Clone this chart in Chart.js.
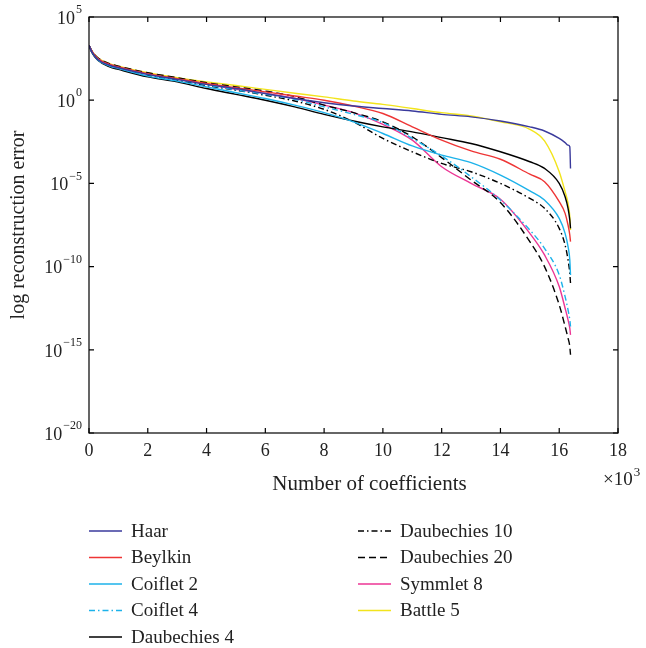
<!DOCTYPE html>
<html lang="en">
<head>
    <meta charset="UTF-8">
    <title>Reconstruction error vs number of coefficients</title>
    <script src="https://cdn.jsdelivr.net/npm/chart.js"></script>
    <style>
        html, body { margin: 0; padding: 0; background: #fff; }
        #wrap { width: 646px; height: 648px; }
    </style>
</head>
<body>
    <div id="wrap">
        <canvas id="errChart" width="646" height="648"></canvas>
    </div>

    <script>
        // number of coefficients, in thousands (x10^3)
        const nCoef = [0, 0.1, 0.3, 0.7, 1, 2, 3, 4, 5, 6, 7, 8, 9, 10, 11, 12, 13, 14, 15, 15.5, 16, 16.2, 16.3, 16.36, 16.384];

        // log10 of the reconstruction error
        const haar      = [3.3, 2.9, 2.45, 2.1, 1.95, 1.55, 1.25, 0.95, 0.7, 0.4, 0.1, -0.15, -0.35, -0.5, -0.65, -0.85, -1.0, -1.25, -1.6, -1.85, -2.3, -2.55, -2.7, -2.8, -4.1];
        const beylkin   = [3.3, 2.95, 2.5, 2.15, 2.0, 1.6, 1.3, 1.0, 0.75, 0.5, 0.25, 0.0, -0.35, -0.8, -1.6, -2.4, -3.05, -3.55, -4.45, -4.9, -6.1, -6.8, -7.5, -8.1, -8.5];
        const coiflet2  = [3.3, 2.9, 2.42, 2.05, 1.9, 1.45, 1.15, 0.8, 0.45, 0.1, -0.3, -0.75, -1.3, -2.0, -2.75, -3.3, -3.75, -4.5, -5.45, -6.0, -7.1, -8.0, -8.8, -9.6, -10.5];
        const coiflet4  = [3.3, 2.9, 2.5, 2.12, 1.97, 1.55, 1.25, 0.92, 0.62, 0.35, 0.05, -0.4, -0.85, -1.35, -2.3, -3.35, -4.6, -6.0, -7.8, -8.9, -10.5, -11.8, -12.6, -13.2, -13.6];
        const daub4     = [3.3, 2.85, 2.4, 2.0, 1.85, 1.4, 1.1, 0.7, 0.35, 0.0, -0.4, -0.85, -1.25, -1.6, -1.9, -2.25, -2.6, -3.1, -3.7, -4.1, -5.0, -5.8, -6.5, -7.2, -7.7];
        const daub10    = [3.3, 2.9, 2.45, 2.1, 1.95, 1.5, 1.2, 0.88, 0.6, 0.3, -0.05, -0.55, -1.3, -2.3, -3.1, -3.8, -4.3, -5.0, -5.9, -6.5, -7.7, -8.7, -9.6, -10.4, -11.0];
        const daub20    = [3.3, 2.95, 2.55, 2.2, 2.05, 1.65, 1.35, 1.05, 0.8, 0.55, 0.22, -0.3, -0.75, -1.3, -2.2, -3.45, -4.8, -6.15, -8.5, -10.0, -12.3, -13.6, -14.3, -14.8, -15.3];
        const symmlet8  = [3.3, 2.9, 2.5, 2.15, 2.0, 1.55, 1.25, 0.95, 0.65, 0.4, 0.12, -0.3, -0.75, -1.45, -2.4, -4.0, -5.0, -5.95, -8.0, -9.3, -11.2, -12.5, -13.2, -13.7, -14.1];
        const battle5   = [3.3, 2.95, 2.55, 2.2, 2.05, 1.65, 1.35, 1.1, 0.88, 0.65, 0.42, 0.2, -0.05, -0.25, -0.5, -0.75, -0.95, -1.3, -1.75, -2.45, -4.3, -5.5, -6.2, -7.0, -7.8];

        const xTicks = [0, 2, 4, 6, 8, 10, 12, 14, 16, 18];
        const yTicks = [-20, -15, -10, -5, 0, 5];

        const FONT = '"Liberation Serif", "DejaVu Serif", serif';
        const dashDot = [6, 3, 1.5, 3];

        function pts(arr) {
            return nCoef.map((x, i) => ({ x: x, y: arr[i] }));
        }

        function line(label, arr, color, dash) {
            return {
                label: label,
                data: pts(arr),
                borderColor: color,
                backgroundColor: color,
                borderWidth: 1.4,
                borderDash: dash || [],
                pointRadius: 0,
                fill: false,
                cubicInterpolationMode: 'monotone'
            };
        }

        // axes box, inward ticks, tick labels with superscripts, titles
        const frame = {
            id: 'frame',
            afterDraw(chart) {
                const ctx = chart.ctx;
                const a = chart.chartArea;
                const xs = chart.scales.x, ys = chart.scales.y;
                ctx.save();
                ctx.strokeStyle = '#000';
                ctx.lineWidth = 1.2;
                ctx.strokeRect(a.left, a.top, a.right - a.left, a.bottom - a.top);

                ctx.beginPath();
                xTicks.forEach(t => {
                    const px = xs.getPixelForValue(t);
                    ctx.moveTo(px, a.bottom); ctx.lineTo(px, a.bottom - 5);
                    ctx.moveTo(px, a.top); ctx.lineTo(px, a.top + 5);
                });
                yTicks.forEach(t => {
                    const py = ys.getPixelForValue(t);
                    ctx.moveTo(a.left, py); ctx.lineTo(a.left + 5, py);
                    ctx.moveTo(a.right, py); ctx.lineTo(a.right - 5, py);
                });
                ctx.stroke();

                ctx.fillStyle = '#222';
                ctx.textBaseline = 'middle';

                // x tick labels
                ctx.font = '18px ' + FONT;
                ctx.textAlign = 'center';
                xTicks.forEach(t => {
                    ctx.fillText(String(t), xs.getPixelForValue(t), a.bottom + 18);
                });

                // y tick labels: 10^n
                yTicks.forEach(t => {
                    const py = ys.getPixelForValue(t);
                    const exp = t < 0 ? '\u2212' + Math.abs(t) : String(t);
                    ctx.font = '12px ' + FONT;
                    const ew = ctx.measureText(exp).width;
                    ctx.textAlign = 'right';
                    ctx.fillText(exp, a.left - 7, py - 7);
                    ctx.font = '18px ' + FONT;
                    ctx.fillText('10', a.left - 8 - ew, py + 2);
                });

                // axis titles
                ctx.font = '21px ' + FONT;
                ctx.textAlign = 'center';
                ctx.fillText('Number of coefficients', (a.left + a.right) / 2 + 16, a.bottom + 51);

                ctx.textAlign = 'left';
                ctx.font = '19px ' + FONT;
                ctx.fillText('\u00d710', 603, a.bottom + 47);
                const w10 = ctx.measureText('\u00d710').width;
                ctx.font = '13px ' + FONT;
                ctx.fillText('3', 603 + w10 + 1, a.bottom + 40);

                ctx.save();
                ctx.translate(19, (a.top + a.bottom) / 2);
                ctx.rotate(-Math.PI / 2);
                ctx.font = '20px ' + FONT;
                ctx.textAlign = 'center';
                ctx.fillText('log reconstruction error', 0, 0);
                ctx.restore();

                ctx.restore();
            }
        };

        // two-column legend under the plot
        const sideLegend = {
            id: 'sideLegend',
            afterDraw(chart) {
                const ctx = chart.ctx;
                const cols = [89, 358];
                const rowTop = 531, rowStep = 26.5;
                ctx.save();
                ctx.font = '19px ' + FONT;
                ctx.textBaseline = 'middle';
                ctx.textAlign = 'left';
                chart.data.datasets.forEach((ds, i) => {
                    const col = i < 5 ? 0 : 1;
                    const row = i < 5 ? i : i - 5;
                    const x0 = cols[col];
                    const y = rowTop + row * rowStep;
                    ctx.strokeStyle = ds.borderColor;
                    ctx.lineWidth = 1.4;
                    ctx.setLineDash(ds.borderDash);
                    ctx.beginPath();
                    ctx.moveTo(x0, y);
                    ctx.lineTo(x0 + 33, y);
                    ctx.stroke();
                    ctx.setLineDash([]);
                    ctx.fillStyle = '#222';
                    ctx.fillText(ds.label, x0 + 42, y + 1);
                });
                ctx.restore();
            }
        };

        new Chart(document.getElementById('errChart'), {
            type: 'line',
            data: {
                datasets: [
                    line('Haar', haar, '#3a3a9c'),
                    line('Beylkin', beylkin, '#ee3535'),
                    line('Coiflet 2', coiflet2, '#1cb2ea'),
                    line('Coiflet 4', coiflet4, '#1cb2ea', dashDot),
                    line('Daubechies 4', daub4, '#000000'),
                    line('Daubechies 10', daub10, '#000000', dashDot),
                    line('Daubechies 20', daub20, '#000000', [7, 4]),
                    line('Symmlet 8', symmlet8, '#ec3594'),
                    line('Battle 5', battle5, '#f2e41c')
                ]
            },
            options: {
                responsive: false,
                animation: false,
                layout: { padding: { left: 89, right: 28, top: 17, bottom: 215 } },
                plugins: {
                    legend: { display: false },
                    tooltip: { enabled: false }
                },
                scales: {
                    x: { type: 'linear', min: 0, max: 18, display: false },
                    y: { type: 'linear', min: -20, max: 5, display: false }
                }
            },
            plugins: [frame, sideLegend]
        });
    </script>
</body>
</html>
